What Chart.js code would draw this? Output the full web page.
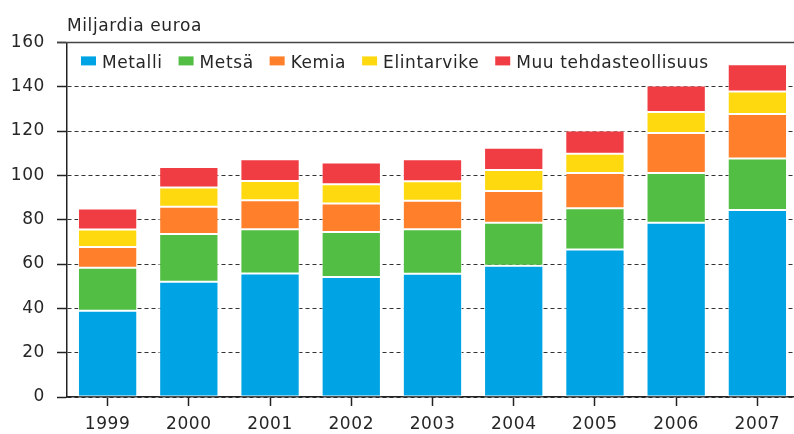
<!DOCTYPE html>
<html>
<head>
<meta charset="utf-8">
<script src="https://cdn.jsdelivr.net/npm/chart.js@4/dist/chart.umd.min.js"></script>
<style>
  html, body { margin: 0; padding: 0; background: #fff; overflow: hidden; }
</style>
</head>
<body>
<canvas id="myChart" width="800" height="434"></canvas>
<script>
// values, billions of euros
const years = ['1999', '2000', '2001', '2002', '2003', '2004', '2005', '2006', '2007'];
const metalli = [38.9, 52.0, 55.7, 54.2, 55.6, 59.2, 66.6, 78.6, 84.4];
const metsa = [19.4, 21.6, 20.0, 20.2, 20.1, 19.4, 18.6, 22.5, 23.2];
const kemia = [9.4, 12.2, 13.1, 12.9, 12.9, 14.4, 15.9, 18.0, 20.1];
const elintarvike = [7.9, 8.7, 8.7, 8.7, 8.7, 9.4, 8.7, 9.5, 10.2];
const muu = [9.4, 9.3, 9.8, 9.8, 10.0, 10.1, 10.5, 12.0, 12.2];
const yTicks = [0, 20, 40, 60, 80, 100, 120, 140, 160];

const FONT = '"DejaVu Sans", sans-serif';
const TEXT = '#262626';

// legend is drawn inside the plot, on one row
const insideLegend = {
    id: 'insideLegend',
    beforeDraw(chart) {
        chart.ctx.letterSpacing = '0.6px';
    },
    afterDraw(chart) {
        const {ctx, chartArea} = chart;
        ctx.save();
        ctx.letterSpacing = '0.6px';
        ctx.font = '17px ' + FONT;
        ctx.textBaseline = 'middle';
        let x = chartArea.left + 14;
        const y = chartArea.top + 21;
        chart.data.datasets.forEach(ds => {
            ctx.fillStyle = ds.backgroundColor;
            ctx.fillRect(x, y - 7, 15, 9);
            ctx.fillStyle = TEXT;
            ctx.fillText(ds.label, x + 21, y);
            x += 21 + ctx.measureText(ds.label).width + 16;
        });
        // solid frame line at the top of the plot
        ctx.strokeStyle = '#444';
        ctx.lineWidth = 1.5;
        ctx.beginPath();
        ctx.moveTo(chartArea.left - 10, chartArea.top);
        ctx.lineTo(chart.width, chartArea.top);
        ctx.stroke();
        ctx.restore();
    }
};

const ctx = document.getElementById('myChart').getContext('2d');

var myChart = new Chart(ctx, {
    type: 'bar',
    data: {
        labels: years,
        datasets: [
            { label: 'Metalli', data: metalli, backgroundColor: '#00A4E4' },
            { label: 'Metsä', data: metsa, backgroundColor: '#53BE44' },
            { label: 'Kemia', data: kemia, backgroundColor: '#FF7F2A' },
            { label: 'Elintarvike', data: elintarvike, backgroundColor: '#FFD910' },
            { label: 'Muu tehdasteollisuus', data: muu, backgroundColor: '#F03D44' }
        ]
    },
    options: {
        responsive: false,
        animation: false,
        datasets: {
            bar: {
                barPercentage: 0.73,
                categoryPercentage: 1,
                borderWidth: 1,
                borderColor: 'rgba(255,255,255,0.75)',
                borderSkipped: false
            }
        },
        layout: { padding: { left: 0, right: 2, top: 0, bottom: 0 } },
        plugins: {
            legend: { display: false },
            tooltip: { enabled: false },
            title: {
                display: true,
                text: 'Miljardia euroa',
                align: 'start',
                fullSize: false,
                color: TEXT,
                font: { family: FONT, size: 17, weight: 'normal' },
                padding: { top: 16, bottom: 6 }
            }
        },
        scales: {
            x: {
                stacked: true,
                grid: {
                    offset: false,
                    drawOnChartArea: false,
                    drawTicks: true,
                    tickLength: 9,
                    tickColor: '#222',
                    tickWidth: 1.5
                },
                border: { display: true, color: '#222', width: 1.5 },
                ticks: {
                    color: TEXT,
                    padding: 8,
                    maxRotation: 0,
                    font: { family: FONT, size: 17 }
                },
                afterFit(scale) { scale.height = 37; }
            },
            y: {
                stacked: true,
                min: 0,
                max: 160,
                afterBuildTicks(scale) {
                    scale.ticks = yTicks.map(v => ({ value: v }));
                },
                grid: {
                    color: '#333',
                    lineWidth: 1,
                    drawTicks: true,
                    tickLength: 10,
                    tickColor: '#222',
                    tickWidth: 1.5,
                    tickBorderDash: [0, 0]
                },
                border: { display: true, color: '#222', width: 1.5, dash: [4, 3] },
                ticks: {
                    color: TEXT,
                    padding: 12,
                    font: { family: FONT, size: 17 }
                },
                afterFit(scale) { scale.width = 67; }
            }
        }
    },
    plugins: [insideLegend]
});
</script>
</body>
</html>
